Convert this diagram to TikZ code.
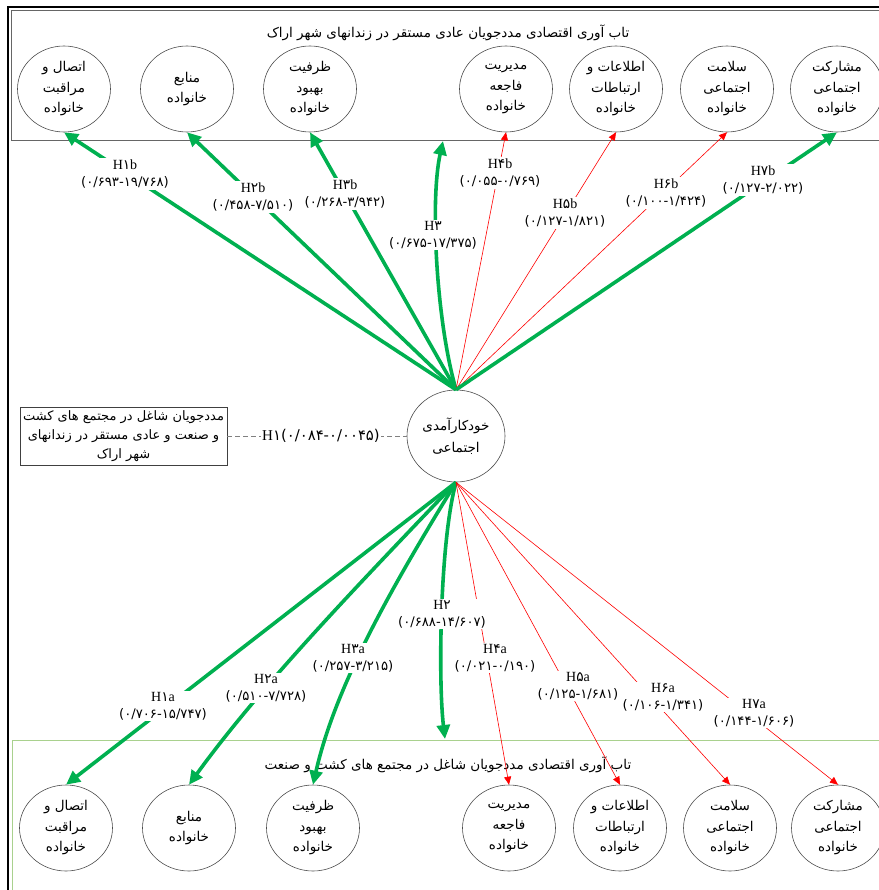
\documentclass[tikz,border=0pt]{standalone}
\usepackage{fontspec}
\setmainfont{Liberation Serif}
\newfontfamily\arabicfont[Script=Arabic]{DejaVu Sans}
\newfontfamily\digitfont[Scale=1.1]{DejaVu Sans}
\TeXXeTstate=1
\usetikzlibrary{arrows.meta,shapes.geometric}
\definecolor{grn}{RGB}{0,176,80}
\definecolor{lightgrn}{RGB}{169,209,142}
\newcommand{\fatxt}[1]{{\arabicfont\beginR #1\endR}}
\newcommand{\pd}[1]{{\digitfont #1}}
\newcommand{\ci}[1]{{\fontsize{12}{17}\selectfont\digitfont #1}}
\newcommand{\hx}[1]{{\fontsize{12.5}{17}\selectfont\digitfont #1}}
\tikzset{
  factor/.style={ellipse, draw=black!70, line width=0.6pt, minimum width=93pt,
    minimum height=86pt, inner sep=0pt, align=center,
    font=\fontsize{13.5}{20.5}\selectfont},
  core/.style={factor, minimum width=98pt, minimum height=92pt,
    font=\fontsize{13.5}{22}\selectfont},
  grnarrow/.style={draw=grn, line width=3.6pt, -{Triangle[length=14pt,width=13pt]}},
  redarrow/.style={draw=red, line width=0.6pt, -{Triangle[length=8pt,width=7pt]}},
  hlabel/.style={fill=white, inner sep=1.5pt, align=center,
    font=\fontsize{14}{17}\selectfont},
  titletext/.style={font=\fontsize{13.5}{14}\selectfont, inner sep=0pt},
}
\begin{document}
\begin{tikzpicture}[x=1pt,y=-1pt]
\useasboundingbox (0,0) rectangle (878,890);

% frames
\draw[black, line width=2.4pt] (8,890) -- (8,7) -- (880,7);
\draw[black!60, line width=0.8pt] (880,10.5) -- (11.5,10.5) -- (11.5,140) -- (880,140);
\draw[lightgrn, line width=0.8pt] (880,740) -- (12.5,740) -- (12.5,892);

% titles
\node[titletext] (toptitle) at (448,33) {\fatxt{تاب آوری اقتصادی مددجویان عادی مستقر در زندانهای شهر اراک}};
\node[titletext] (bottitle) at (448,765) {\fatxt{تاب آوری اقتصادی مددجویان شاغل در مجتمع های کشت و صنعت}};

% top factors
\node[factor] (t1) at (64,89)  {\fatxt{اتصال و}\\\fatxt{مراقبت}\\\fatxt{خانواده}};
\node[factor] (t2) at (187,89) {\fatxt{منابع}\\\fatxt{خانواده}};
\node[factor] (t3) at (310,89) {\fatxt{ظرفیت}\\\fatxt{بهبود}\\\fatxt{خانواده}};
\node[factor] (t4) at (506,89) {\fatxt{مدیریت}\\\fatxt{فاجعه}\\\fatxt{خانواده}};
\node[factor] (t5) at (616,89) {\fatxt{اطلاعات و}\\\fatxt{ارتباطات}\\\fatxt{خانواده}};
\node[factor] (t6) at (727,89) {\fatxt{سلامت}\\\fatxt{اجتماعی}\\\fatxt{خانواده}};
\node[factor] (t7) at (837,89) {\fatxt{مشارکت}\\\fatxt{اجتماعی}\\\fatxt{خانواده}};

% bottom factors
\node[factor] (b1) at (66,828)  {\fatxt{اتصال و}\\\fatxt{مراقبت}\\\fatxt{خانواده}};
\node[factor] (b2) at (189,828) {\fatxt{منابع}\\\fatxt{خانواده}};
\node[factor] (b3) at (313,828) {\fatxt{ظرفیت}\\\fatxt{بهبود}\\\fatxt{خانواده}};
\node[factor] (b4) at (509,828) {\fatxt{مدیریت}\\\fatxt{فاجعه}\\\fatxt{خانواده}};
\node[factor] (b5) at (620,828) {\fatxt{اطلاعات و}\\\fatxt{ارتباطات}\\\fatxt{خانواده}};
\node[factor] (b6) at (730,828) {\fatxt{سلامت}\\\fatxt{اجتماعی}\\\fatxt{خانواده}};
\node[factor] (b7) at (838,828) {\fatxt{مشارکت}\\\fatxt{اجتماعی}\\\fatxt{خانواده}};

% central construct and group box
\node[core] (c) at (456,436) {\fatxt{خودکارآمدی}\\\fatxt{اجتماعی}};
\node[draw=black!75, line width=0.6pt, minimum width=207pt, minimum height=58pt,
  align=center, inner sep=0pt, font=\fontsize{13}{19}\selectfont] (grp) at (123.5,436)
  {\fatxt{مددجویان شاغل در مجتمع های کشت}\\\fatxt{و صنعت و عادی مستقر در زندانهای}\\\fatxt{شهر اراک}};

\coordinate (h3top) at (443,141);
\coordinate (h2bot) at (445,739);

% paths to the top group
\draw[grnarrow] (c.north) -- (t1.south);
\draw[grnarrow] (c.north) -- (t2.south);
\draw[grnarrow] (c.north) -- (t3.south);
\draw[grnarrow] (c.north) .. controls (436,320) and (430,200) .. (h3top);
\draw[redarrow] (c.north) -- (t4.south);
\draw[redarrow] (c.north) -- (t5.south);
\draw[redarrow] (c.north) -- (t6.south);
\draw[grnarrow] (c.north) -- (t7.south);

% paths to the bottom group
\draw[grnarrow] (c.south) -- (b1.north);
\draw[grnarrow] (c.south) .. controls (361,582) and (262,684) .. (b2.north);
\draw[grnarrow] (c.south) .. controls (395,582) and (336,683) .. (b3.north);
\draw[grnarrow] (c.south) .. controls (440,540) and (438,680) .. (h2bot);
\draw[redarrow] (c.south) -- (b4.north);
\draw[redarrow] (c.south) -- (b5.north);
\draw[redarrow] (c.south) -- (b6.north);
\draw[redarrow] (c.south) -- (b7.north);

% group comparison
\draw[gray, line width=0.8pt, dash pattern=on 5pt off 3pt] (grp.east) -- (c.west);
\node[fill=white, inner sep=1pt, font=\fontsize{15}{16}\selectfont] (h1) at (321,436)
  {H{\fontsize{13.5}{16}\selectfont\pd{۱(۰/۰۸۴-۰/۰۰۴۵)}}};

% path labels, top
\node[hlabel] (l1b) at (125,174) {H\hx{۱}b\\\ci{(۰/۶۹۳-۱۹/۷۶۸)}};
\node[hlabel] (l2b) at (253,197) {H\hx{۲}b\\\ci{(۰/۴۵۸-۷/۵۱۰)}};
\node[hlabel] (l3b) at (345,194) {H\hx{۳}b\\\ci{(۰/۲۶۸-۳/۹۴۲)}};
\node[hlabel] (l3)  at (433,235) {H\hx{۳}\\\ci{(۰/۶۷۵-۱۷/۳۷۵)}};
\node[hlabel] (l4b) at (500,173) {H\hx{۴}b\\\ci{(۰/۰۵۵-۰/۷۶۹)}};
\node[hlabel] (l5b) at (565,213) {H\hx{۵}b\\\ci{(۰/۱۲۷-۱/۸۲۱)}};
\node[hlabel] (l6b) at (666,193) {H\hx{۶}b\\\ci{(۰/۱۰۰-۱/۴۲۴)}};
\node[hlabel] (l7b) at (763,180) {H\hx{۷}b\\\ci{(۰/۱۲۷-۲/۰۲۲)}};

% path labels, bottom
\node[hlabel] (l1a) at (163,706) {H\hx{۱}a\\\ci{(۰/۷۰۶-۱۵/۷۴۷)}};
\node[hlabel] (l2a) at (266,688) {H\hx{۲}a\\\ci{(۰/۵۱۰-۷/۷۲۸)}};
\node[hlabel] (l3a) at (353,658) {H\hx{۳}a\\\ci{(۰/۲۵۷-۳/۲۱۵)}};
\node[hlabel] (l2)  at (442,614) {H\hx{۲}\\\ci{(۰/۶۸۸-۱۴/۶۰۷)}};
\node[hlabel] (l4a) at (495,658) {H\hx{۴}a\\\ci{(۰/۰۲۱-۰/۱۹۰)}};
\node[hlabel] (l5a) at (578,686) {H\hx{۵}a\\\ci{(۰/۱۲۵-۱/۶۸۱)}};
\node[hlabel] (l6a) at (663,697) {H\hx{۶}a\\\ci{(۰/۱۰۶-۱/۳۴۱)}};
\node[hlabel] (l7a) at (754,713) {H\hx{۷}a\\\ci{(۰/۱۴۴-۱/۶۰۶)}};
\end{tikzpicture}
\end{document}
